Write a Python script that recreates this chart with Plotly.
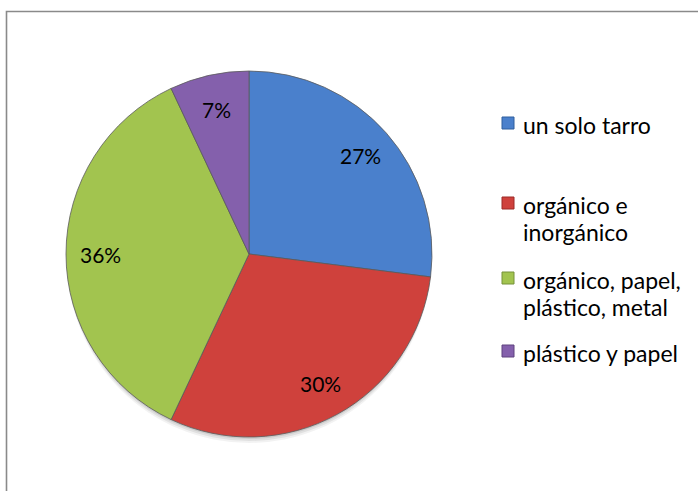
import math
import plotly.graph_objects as go

# Waste-separation preference shares
categories = ["un solo tarro", "orgánico e inorgánico",
              "orgánico, papel, plástico, metal", "plástico y papel"]
legend_lines = [["un solo tarro"],
                ["orgánico e", "inorgánico"],
                ["orgánico, papel,", "plástico, metal"],
                ["plástico y papel"]]
values = [27, 30, 36, 7]
colors = ["#4A80CC", "#CF413C", "#A2C44F", "#8460AC"]
edge_colors = ["#2F5E9E", "#9C2A27", "#76923A", "#5E437F"]

W, H = 698, 491
cx, cy, R = 249, 254, 183
FONT = "Lato, Carlito, Calibri, sans-serif"

fig = go.Figure(go.Pie(
    labels=categories,
    values=values,
    sort=False,
    direction="clockwise",
    rotation=0,
    marker=dict(colors=colors, line=dict(color="#5a5a5a", width=0.8)),
    textinfo="none",
    showlegend=False,
    hovertemplate="%{label}: %{value}%<extra></extra>",
    domain=dict(x=[(cx - R) / W, (cx + R) / W],
                y=[1 - (cy + R) / H, 1 - (cy - R) / H]),
))

shapes = []
annotations = []

# soft drop shadow under the pie
for k, a in enumerate([0.05, 0.07, 0.09]):
    off = 6 - 2 * k
    shapes.append(dict(type="circle", xref="paper", yref="paper", layer="below",
                       x0=(cx - R + 1) / W, x1=(cx + R - 1) / W,
                       y0=1 - (cy + R + off) / H, y1=1 - (cy - R + off) / H,
                       fillcolor=f"rgba(0,0,0,{a})", line=dict(width=0)))

# chart frame
shapes.append(dict(type="rect", xref="paper", yref="paper",
                   x0=6.5 / W, x1=1.02, y0=-0.02, y1=1 - 11.5 / H,
                   line=dict(color="#8a8a8a", width=1.6), fillcolor="rgba(0,0,0,0)"))

# percentage labels at each slice's mid angle (clockwise from 12 o'clock)
total = sum(values)
label_r = 0.81 * R
start = 0.0
for v in values:
    mid = (start + v / 2) / total * 2 * math.pi
    start += v
    px = cx + label_r * math.sin(mid)
    py = cy - label_r * math.cos(mid)
    annotations.append(dict(xref="paper", yref="paper", x=px / W, y=1 - py / H,
                            xanchor="center", yanchor="middle",
                            text=f"{v}%", showarrow=False,
                            font=dict(family=FONT, size=21, color="#000000")))

# legend entries: marker square + label lines
legend_top = [123, 203, 278, 351]
line_step = 27
for lines, c, ec, ly in zip(legend_lines, colors, edge_colors, legend_top):
    shapes.append(dict(type="rect", xref="paper", yref="paper",
                       x0=502 / W, x1=514 / W,
                       y0=1 - (ly + 6) / H, y1=1 - (ly - 6) / H,
                       fillcolor=c, line=dict(color=ec, width=1)))
    for i, t in enumerate(lines):
        annotations.append(dict(xref="paper", yref="paper", x=521 / W,
                                y=1 - (ly + 2 + i * line_step) / H,
                                xanchor="left", yanchor="middle", align="left",
                                text=t, showarrow=False,
                                font=dict(family=FONT, size=23, color="#000000")))

fig.update_layout(
    width=W, height=H,
    margin=dict(l=0, r=0, t=0, b=0),
    paper_bgcolor="white",
    plot_bgcolor="white",
    shapes=shapes,
    annotations=annotations,
)

fig.write_html("out.html")
